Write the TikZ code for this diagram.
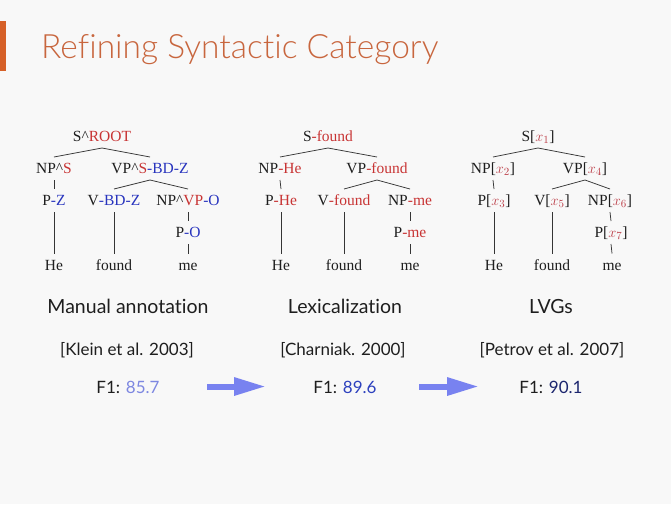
\documentclass[tikz,border=0pt]{standalone}
\usepackage{fontspec}
\setmainfont{Liberation Serif}
\newfontfamily\latofont[Ligatures={NoCommon}]{Lato}
\newfontfamily\latolight[Ligatures={NoCommon}]{Lato Light}
\usetikzlibrary{arrows.meta}
\definecolor{bg}{RGB}{248,248,248}
\definecolor{titlecol}{RGB}{200,102,62}
\definecolor{barcol}{RGB}{214,96,40}
\definecolor{tred}{RGB}{200,52,52}
\definecolor{tblue}{RGB}{40,52,190}
\definecolor{xred}{RGB}{188,62,72}
\definecolor{fone}{RGB}{125,135,225}
\definecolor{ftwo}{RGB}{45,65,190}
\definecolor{fthree}{RGB}{28,38,110}
\definecolor{arrowcol}{RGB}{120,130,240}
\definecolor{txt}{RGB}{30,30,30}
\newcommand{\rd}[1]{\textcolor{tred}{#1}}
\newcommand{\bl}[1]{\textcolor{tblue}{#1}}
\newcommand{\xv}[1]{[\textcolor{xred}{$x_{#1}$}]}
\tikzset{
  tn/.style={inner sep=0pt, anchor=base, text=txt, font=\fontsize{15.5}{18}\selectfont},
  tedge/.style={draw=txt!90, line width=0.75pt},
  label/.style={inner sep=0pt, anchor=base, text=txt, font=\latofont\fontsize{19.5}{22}\selectfont},
  reftext/.style={inner sep=0pt, anchor=base, text=txt, font=\latofont\fontsize{17}{20}\selectfont},
  bigarrow/.style={draw=arrowcol, line width=6pt, -{Triangle[length=32pt,width=17pt]}}
}
\newcommand{\tedgeab}[2]{\draw[tedge] ([yshift=-6.5pt]#1.base) -- ([yshift=16.5pt]#2.base);}
\begin{document}
\begin{tikzpicture}[x=1pt,y=-1pt]
\fill[bg] (0,0) rectangle (671,504);
\useasboundingbox (0,0) rectangle (671,504);
\fill[barcol] (0,21) rectangle (6,71);
\node[inner sep=0pt, anchor=base west, text=titlecol, font=\latolight\fontsize{33.5}{38}\selectfont] (title) at (41,58.5) {Refining Syntactic Category};

% Tree 1
\node[tn] (a0) at (102,141.5) {S\textasciicircum\rd{ROOT}};
\node[tn] (a1) at (54,173.5) {NP\textasciicircum\rd{S}};
\node[tn] (a2) at (150,173.5) {VP\textasciicircum\rd{S}\bl{-BD-Z}};
\node[tn] (a3) at (54,205.5) {P\bl{-Z}};
\node[tn] (a4) at (114,205.5) {V\bl{-BD-Z}};
\node[tn] (a5) at (188,205.5) {NP\textasciicircum\rd{VP}\bl{-O}};
\node[tn] (a6) at (188,237.5) {P\bl{-O}};
\node[tn] (a7) at (54,270) {He};
\node[tn] (a8) at (114,270) {found};
\node[tn] (a9) at (188,270) {me};
\tedgeab{a0}{a1}\tedgeab{a0}{a2}\tedgeab{a1}{a3}\tedgeab{a2}{a4}\tedgeab{a2}{a5}
\tedgeab{a3}{a7}\tedgeab{a4}{a8}\tedgeab{a5}{a6}\tedgeab{a6}{a9}

% Tree 2
\node[tn] (b0) at (328,141.5) {S\rd{-found}};
\node[tn] (b1) at (280,173.5) {NP\rd{-He}};
\node[tn] (b2) at (377,173.5) {VP\rd{-found}};
\node[tn] (b3) at (281,205.5) {P\rd{-He}};
\node[tn] (b4) at (344,205.5) {V\rd{-found}};
\node[tn] (b5) at (410,205.5) {NP\rd{-me}};
\node[tn] (b6) at (410,237.5) {P\rd{-me}};
\node[tn] (b7) at (281,270) {He};
\node[tn] (b8) at (344,270) {found};
\node[tn] (b9) at (410,270) {me};
\tedgeab{b0}{b1}\tedgeab{b0}{b2}\tedgeab{b1}{b3}\tedgeab{b2}{b4}\tedgeab{b2}{b5}
\tedgeab{b3}{b7}\tedgeab{b4}{b8}\tedgeab{b5}{b6}\tedgeab{b6}{b9}

% Tree 3
\node[tn] (c0) at (538,141.5) {S\xv{1}};
\node[tn] (c1) at (493,173.5) {NP\xv{2}};
\node[tn] (c2) at (585,173.5) {VP\xv{4}};
\node[tn] (c3) at (494,205.5) {P\xv{3}};
\node[tn] (c4) at (552,205.5) {V\xv{5}};
\node[tn] (c5) at (610,205.5) {NP\xv{6}};
\node[tn] (c6) at (611,237.5) {P\xv{7}};
\node[tn] (c7) at (494,270) {He};
\node[tn] (c8) at (552,270) {found};
\node[tn] (c9) at (612,270) {me};
\tedgeab{c0}{c1}\tedgeab{c0}{c2}\tedgeab{c1}{c3}\tedgeab{c2}{c4}\tedgeab{c2}{c5}
\tedgeab{c3}{c7}\tedgeab{c4}{c8}\tedgeab{c5}{c6}\tedgeab{c6}{c9}

% Labels
\node[label] (l1) at (128,313) {Manual annotation};
\node[label] (l2) at (345,313) {Lexicalization};
\node[label] (l3) at (551,313) {LVGs};
\node[reftext] (r1) at (127,355) {[Klein et al. 2003]};
\node[reftext] (r2) at (343,355) {[Charniak. 2000]};
\node[reftext] (r3) at (552,355) {[Petrov et al. 2007]};
\node[reftext] (f1) at (128,393) {F1: \textcolor{fone}{85.7}};
\node[reftext] (f2) at (345,393) {F1: \textcolor{ftwo}{89.6}};
\node[reftext] (f3) at (551,393) {F1: \textcolor{fthree}{90.1}};

\coordinate (p1s) at (207,386.5);
\coordinate (p1e) at (266,386.5);
\coordinate (p2s) at (419,386.5);
\coordinate (p2e) at (479,386.5);
\draw[bigarrow] (p1s) -- (p1e);
\draw[bigarrow] (p2s) -- (p2e);
\end{tikzpicture}
\end{document}
